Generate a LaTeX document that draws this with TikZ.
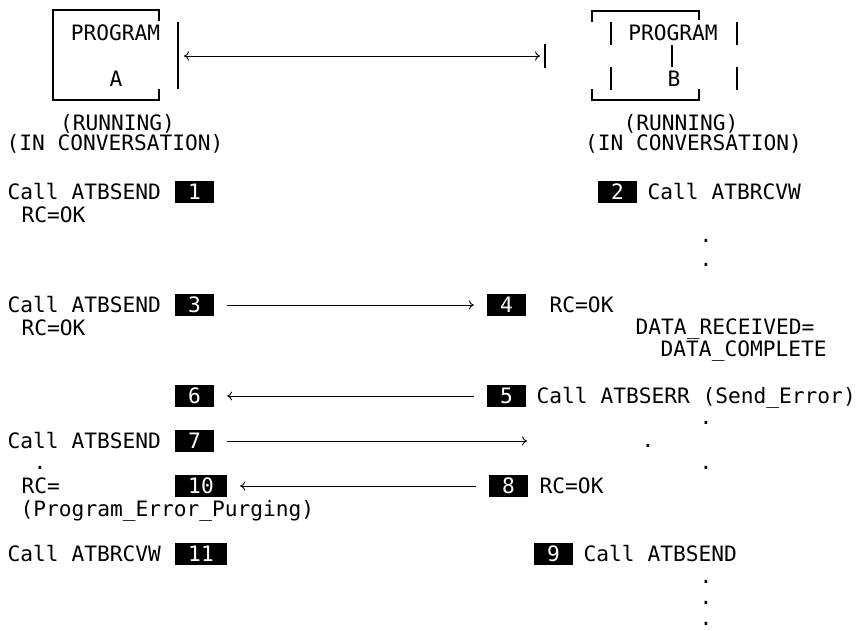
\documentclass[tikz,border=0pt]{standalone}
\usepackage{fontspec}
\usepackage{tikz}
\usetikzlibrary{arrows,arrows.meta,positioning,calc}
\newfontfamily\monofont{DejaVu Sans Mono}
\newcommand{\codefont}{\monofont\fontsize{21.2}{24}\selectfont}

\begin{document}
\begin{tikzpicture}[x=1pt, y=-1pt, >={To[length=5pt,width=9pt]},
    txt/.style={anchor=base west, inner sep=0pt, font=\codefont},
    ctxt/.style={anchor=base, inner sep=0pt, font=\codefont},
    num/.style={fill=black, text=white, inner sep=0pt, minimum width=39pt, minimum height=22pt, font=\codefont},
    wide/.style={minimum width=52pt},
    ellip/.style={anchor=base, inner sep=0pt, font=\codefont},
    art/.style={line width=1.1pt},
    msg/.style={->, line width=0.9pt, shorten >=13pt, shorten <=13pt}]

    \useasboundingbox (0,0) rectangle (857,630);

    % Program A
    \draw[art] (159,21) -- (159,10) -- (53,10) -- (53,100) -- (159,100) -- (159,89);
    \draw[art] (178,22) -- (178,89);
    \node[ctxt] (progA) at (115.5,40) {PROGRAM};
    \node[ctxt] (nameA) at (116,86) {A};
    \node[ctxt] (runA) at (117.5,130) {(RUNNING)};
    \node[ctxt] (convA) at (115,150) {(IN CONVERSATION)};

    % Program B
    \draw[art] (592,22) -- (592,11) -- (699,11) -- (699,20);
    \draw[art] (592,89) -- (592,100) -- (699,100) -- (699,89);
    \draw[art] (611,22) -- (611,45) (611,67) -- (611,90);
    \draw[art] (737,22) -- (737,45) (737,67) -- (737,90);
    \draw[art] (672,45) -- (672,67);
    \draw[art] (545,44) -- (545,68);
    \node[ctxt] (progB) at (673,40) {PROGRAM};
    \node[ctxt] (nameB) at (674,86) {B};
    \node[ctxt] (runB) at (681,130) {(RUNNING)};
    \node[ctxt] (convB) at (693.5,150) {(IN CONVERSATION)};

    % Conversation
    \coordinate (endA) at (178,56);
    \coordinate (endB) at (545,56);
    \draw[msg, <->, shorten <=6pt, shorten >=5pt] (endA) -- (endB);

    % Left side
    \node[txt] (sendone) at (7.5,199) {Call ATBSEND};
    \node[num] (one) at (194.5,192) {1};
    \node[txt] (rcone) at (21.5,222) {RC=OK};
    \node[txt] (sendthree) at (7.5,312) {Call ATBSEND};
    \node[num] (three) at (194.5,305) {3};
    \node[txt] (rcthree) at (21.5,335) {RC=OK};
    \node[num] (six) at (194.5,396) {6};
    \node[txt] (sendseven) at (7.5,448) {Call ATBSEND};
    \node[num] (seven) at (194.5,441) {7};
    \node[ellip] at (40,469.5) {.};
    \node[txt] (rcten) at (21.5,493) {RC=};
    \node[num, wide] (ten) at (201,486) {10};
    \node[txt] (purge) at (20.5,516) {(Program\_Error\_Purging)};
    \node[txt] (rcvweleven) at (7.5,561) {Call ATBRCVW};
    \node[num, wide] (eleven) at (201,554) {11};

    % Right side
    \node[num] (two) at (617.5,192) {2};
    \node[txt] (rcvwtwo) at (647.5,199) {Call ATBRCVW};
    \node[ellip] at (706,242.5) {.};
    \node[ellip] at (706,266.5) {.};
    \node[num] (four) at (506.5,305) {4};
    \node[txt] (rcfour) at (549.5,312) {RC=OK};
    \node[txt] (datarcv) at (635.5,334) {DATA\_RECEIVED=};
    \node[txt] (datacpl) at (660.5,356) {DATA\_COMPLETE};
    \node[num] (five) at (506.5,396) {5};
    \node[txt] (serrfive) at (536.5,403) {Call ATBSERR (Send\_Error)};
    \node[ellip] at (706,424.5) {.};
    \node[ellip] at (648,447.5) {.};
    \node[ellip] at (706,469.5) {.};
    \node[num] (eight) at (508.5,486) {8};
    \node[txt] (rceight) at (539.5,493) {RC=OK};
    \node[num] (nine) at (553.5,554) {9};
    \node[txt] (sendnine) at (583.5,561) {Call ATBSEND};
    \node[ellip] at (706,583.5) {.};
    \node[ellip] at (706,604.5) {.};
    \node[ellip] at (706,625) {.};

    % Flows
    \coordinate (sevenend) at (527,441);
    \draw[msg] (three) -- (four);
    \draw[msg] (five) -- (six);
    \draw[msg, shorten >=0pt] (seven) -- (sevenend);
    \draw[msg] (eight) -- (ten);

\end{tikzpicture}
\end{document}
